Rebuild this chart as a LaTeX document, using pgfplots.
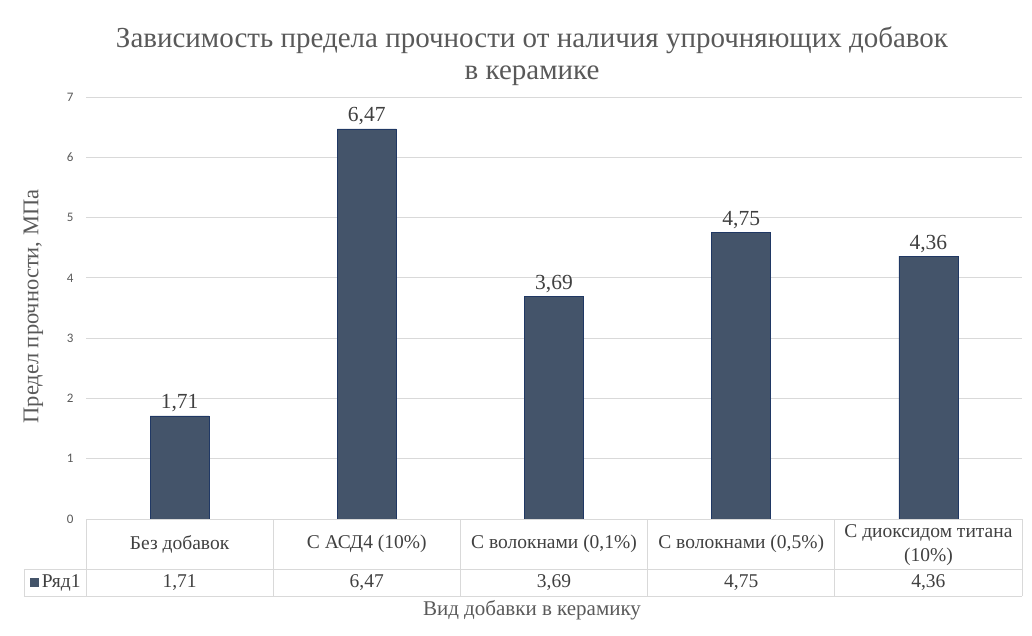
\documentclass[border=0pt]{standalone}
\usepackage{fontspec}
\setmainfont{Liberation Serif}
\newfontfamily\tickfont{Carlito}
\usepackage{pgfplots}
\pgfplotsset{compat=1.18}
\definecolor{barfill}{HTML}{44546A}
\definecolor{barline}{HTML}{203864}
\definecolor{txt}{HTML}{595959}
\definecolor{lbl}{HTML}{404040}
\definecolor{gridc}{HTML}{D9D9D9}
\begin{document}
\begin{tikzpicture}[x=1pt,y=1pt]
\path[use as bounding box] (0,0) rectangle (1032,635);
\begin{axis}[
  at={(86pt,116pt)}, anchor=south west,
  scale only axis, width=936pt, height=422pt,
  xmin=-0.5, xmax=4.5, ymin=0, ymax=7,
  ytick={0,1,2,3,4,5,6,7}, xtick=\empty,
  axis line style={draw=none},
  major tick length=0pt,
  ymajorgrids, grid style={gridc, line width=0.8pt},
  /pgf/number format/assume math mode=true,
  yticklabel style={font=\tickfont\fontsize{13}{13}\selectfont, text=txt, xshift=-9pt},
  ybar, bar width=59pt,
  clip=false,
  nodes near coords,
  nodes near coords style={font=\fontsize{21.5}{21.5}\selectfont, text=lbl, /pgf/number format/.cd, fixed, fixed zerofill, precision=2, use comma, assume math mode=true},
]
\addplot[fill=barfill, draw=barline, line width=0.8pt] coordinates {(0,1.71) (1,6.47) (2,3.69) (3,4.75) (4,4.36)};
% data table
\draw[gridc, line width=0.8pt] (axis cs:-0.5,0) -- (axis cs:4.5,0);
\draw[gridc, line width=0.8pt] (axis cs:-0.8312,-0.8294) -- (axis cs:4.5,-0.8294);
\draw[gridc, line width=0.8pt] (axis cs:-0.8312,-1.2773) -- (axis cs:4.5,-1.2773);
\draw[gridc, line width=0.8pt] (axis cs:-0.8312,-0.8294) -- (axis cs:-0.8312,-1.2773);
\draw[gridc, line width=0.8pt] (axis cs:-0.5,0) -- (axis cs:-0.5,-1.2773);
\draw[gridc, line width=0.8pt] (axis cs:0.5,0) -- (axis cs:0.5,-1.2773);
\draw[gridc, line width=0.8pt] (axis cs:1.5,0) -- (axis cs:1.5,-1.2773);
\draw[gridc, line width=0.8pt] (axis cs:2.5,0) -- (axis cs:2.5,-1.2773);
\draw[gridc, line width=0.8pt] (axis cs:3.5,0) -- (axis cs:3.5,-1.2773);
\draw[gridc, line width=0.8pt] (axis cs:4.5,0) -- (axis cs:4.5,-1.2773);
\begin{scope}[every node/.style={font=\fontsize{19.5}{24}\selectfont, text=lbl, align=center}]
\node at (axis cs:0,-0.4147) {Без добавок};
\node at (axis cs:1,-0.4147) {С АСД4 (10\%)};
\node at (axis cs:2,-0.4147) {С волокнами (0,1\%)};
\node at (axis cs:3,-0.4147) {С волокнами (0,5\%)};
\node at (axis cs:4,-0.43) {С диоксидом титана\\(10\%)};
\node at (axis cs:0,-1.0533) {1,71};
\node at (axis cs:1,-1.0533) {6,47};
\node at (axis cs:2,-1.0533) {3,69};
\node at (axis cs:3,-1.0533) {4,75};
\node at (axis cs:4,-1.0533) {4,36};
\node at (axis cs:-0.6656,-1.0533) {\textcolor{barfill}{\rule{9pt}{9pt}}\,Ряд1};
\end{scope}
\end{axis}
\node[font=\fontsize{29}{32.5}\selectfont, text=txt, align=center] at (532,579) {Зависимость предела прочности от наличия упрочняющих добавок\\в керамике};
\node[font=\fontsize{22.5}{22.5}\selectfont, text=txt, rotate=90] at (33.5,328.5) {Предел прочности, МПа};
\node[font=\fontsize{21}{21}\selectfont, text=txt] at (532,25) {Вид добавки в керамику};
\end{tikzpicture}
\end{document}
